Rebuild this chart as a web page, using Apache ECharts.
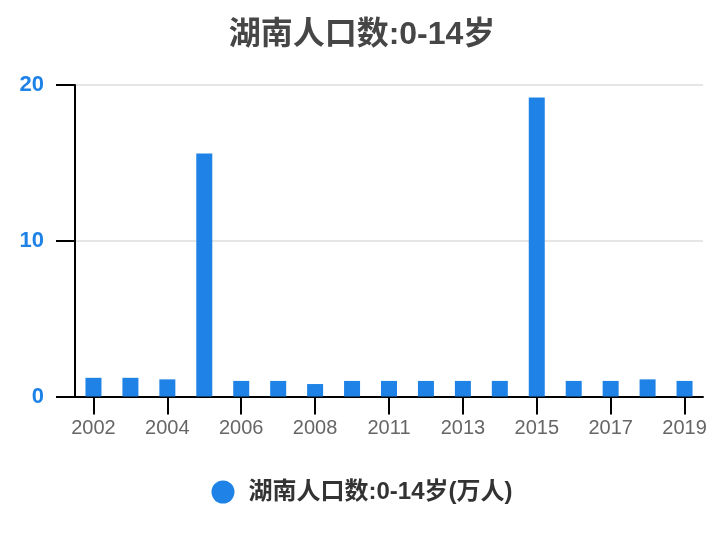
<!DOCTYPE html>
<html><head><meta charset="utf-8">
<script src="https://cdn.jsdelivr.net/npm/echarts@6/dist/echarts.min.js"></script>
<style>html,body{margin:0;padding:0;background:#fff}#c{width:724px;height:540px}</style>
</head><body><div id="c"></div>
<script>
const categories = ['2002','2003','2004','2005','2006','2007','2008','2010','2011','2012','2013','2014','2015','2016','2017','2018','2019'];
const values = [1.2,1.2,1.1,15.6,1.0,1.0,0.8,1.0,1.0,1.0,1.0,1.0,19.2,1.0,1.0,1.1,1.0];
const seriesName = '湖南人口数:0-14岁(万人)';
const titleText = '湖南人口数:0-14岁';
const FONT = '"Liberation Sans", "Noto Sans CJK SC", sans-serif';
const chart = echarts.init(document.getElementById('c'), null, {renderer:'canvas'});
chart.setOption({
  animation:false,
  backgroundColor:'#fff',
  title:{text:titleText,left:'center',top:14,textStyle:{fontFamily:FONT,fontSize:32,fontWeight:'bold',color:'#464646'}},
  legend:{top:475,left:'center',icon:'circle',itemWidth:23,itemHeight:23,itemGap:10,
    textStyle:{fontFamily:FONT,fontSize:24,fontWeight:'bold',color:'#333',padding:[0,0,0,9]},data:[seriesName]},
  grid:{left:75,right:21,top:85,bottom:143.5,containLabel:false},
  xAxis:{type:'category',data:categories,
    axisLine:{lineStyle:{color:'#000',width:2}},
    axisTick:{show:true,alignWithLabel:true,interval:1,length:18,lineStyle:{color:'#000',width:2}},
    axisLabel:{interval:1,margin:22,fontFamily:FONT,fontSize:20,color:'#666'}},
  yAxis:{type:'value',min:0,max:20,interval:10,
    axisLine:{show:true,lineStyle:{color:'#000',width:2}},
    axisTick:{show:true,length:19,lineStyle:{color:'#000',width:2}},
    splitLine:{lineStyle:{color:'#e6e6e6',width:2}},
    axisLabel:{margin:31,padding:[4,0,0,0],fontFamily:FONT,fontSize:22,fontWeight:'bold',color:'#1e82e6'}},
  series:[{name:seriesName,type:'bar',data:values,barWidth:16,itemStyle:{color:'#1e82e6'}}]
});
</script></body></html>
